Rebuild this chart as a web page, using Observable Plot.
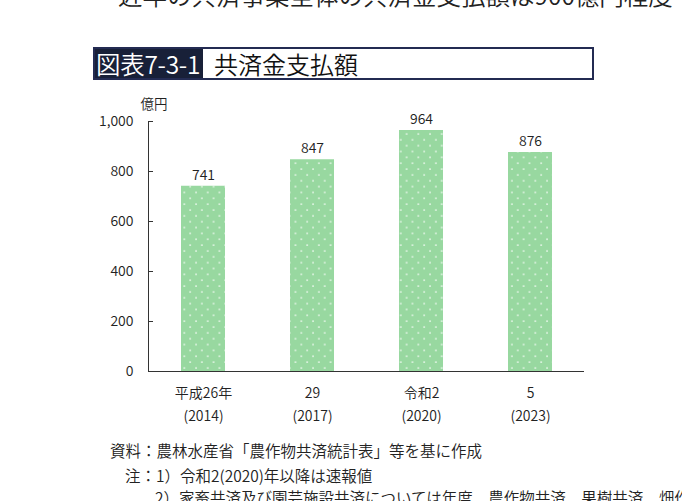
<!DOCTYPE html>
<html><head><meta charset="utf-8">
<script src="https://cdn.jsdelivr.net/npm/d3@7"></script>
<script src="https://cdn.jsdelivr.net/npm/@observablehq/plot@0.6"></script>
<style>
body{margin:0;background:#fff;font-family:"Noto Sans CJK JP","Noto Sans",sans-serif;color:#222;font-weight:350;}
#wrap{position:relative;width:682px;height:501px;overflow:hidden;}
.lead{position:absolute;left:118px;top:-20px;font-size:24.5px;white-space:nowrap;line-height:30px;}
.title{position:absolute;left:93px;top:47px;width:497px;height:29px;border:2px solid #232b52;display:flex;align-items:center;}
.title .lab{background:#182038;color:#fff;height:100%;display:flex;align-items:center;padding:0 3px 0 1px;font-size:24.5px;letter-spacing:-0.3px;}
.title .txt{margin-left:11px;font-size:24px;color:#111;}
#chart{position:absolute;left:0;top:90px;}
.foot{position:absolute;font-size:15.5px;white-space:nowrap;line-height:20px;}
svg text{font-weight:350;}
</style></head>
<body><div id="wrap">
<div class="lead">近年の共済事業全体の共済金支払額は900億円程度</div>
<div class="title"><span class="lab">図表7-3-1</span><span class="txt">共済金支払額</span></div>
<div id="chart"></div>
<div class="foot" style="left:110px;top:440px;">資料：農林水産省「農作物共済統計表」等を基に作成</div>
<div class="foot" style="left:125px;top:465px;">注：1）令和2(2020)年以降は速報値</div>
<div class="foot" style="left:155px;top:487px;">2）家畜共済及び園芸施設共済については年度、農作物共済、果樹共済、畑作物共済は年産</div>
</div>
<script>
const categories = ["平成26年", "29", "令和2", "5"];
const years = ["(2014)", "(2017)", "(2020)", "(2023)"];
const values = [741, 847, 964, 876];
const yTicks = [0, 200, 400, 600, 800, 1000];
const unitLabel = "億円";

const data = categories.map((c, i) => ({cat: c, year: years[i], value: values[i]}));

const svg = Plot.plot({
  width: 682, height: 340,
  marginTop: 31, marginBottom: 59, marginLeft: 148, marginRight: 98,
  style: {fontFamily: '"Noto Sans CJK JP", sans-serif', fontSize: "14px", color: "#222", background: "transparent"},
  x: {domain: categories, paddingInner: 0.6, paddingOuter: 0.3, label: null},
  y: {domain: [0, 1000], label: null},
  marks: [
    Plot.barY(data, {x: "cat", y: "value", fill: "url(#dots)"}),
    Plot.text(data, {x: "cat", y: "value", text: d => String(d.value), dy: -11, fontSize: 14, fill: "#222"}),
    Plot.axisY({ticks: yTicks, tickSize: 0, tickPadding: 15, tickFormat: d3.format(","), fontSize: 14, fill: "#222"}),
    Plot.tickY(yTicks, {y: d => d, stroke: "#333", insetRight: 431}),
    Plot.rect([0], {y1: d => 0, y2: d => 1000, fill: "#333", insetRight: 435}),
    Plot.ruleY([0], {stroke: "#333"}),
    Plot.axisX({tickSize: 0, tickPadding: 10, fontSize: 14, fill: "#222", lineHeight: 1.65,
      tickFormat: d => d + "\n" + years[categories.indexOf(d)]}),
    Plot.text([unitLabel], {frameAnchor: "top-left", text: d => d, dx: -8, dy: -22, textAnchor: "start", fontSize: 13.5, fill: "#222"})
  ]
});

const defs = document.createElementNS("http://www.w3.org/2000/svg", "defs");
defs.innerHTML = `<pattern id="dots" patternUnits="userSpaceOnUse" width="11.7" height="11.7">
  <rect width="11.7" height="11.7" fill="#98d8a0"/>
  <circle cx="3" cy="3" r="0.9" fill="#ffffff" fill-opacity="0.85"/>
  <circle cx="8.85" cy="8.85" r="0.9" fill="#ffffff" fill-opacity="0.85"/>
</pattern>`;
svg.insertBefore(defs, svg.firstChild);
document.getElementById("chart").appendChild(svg);
</script>
</body></html>
